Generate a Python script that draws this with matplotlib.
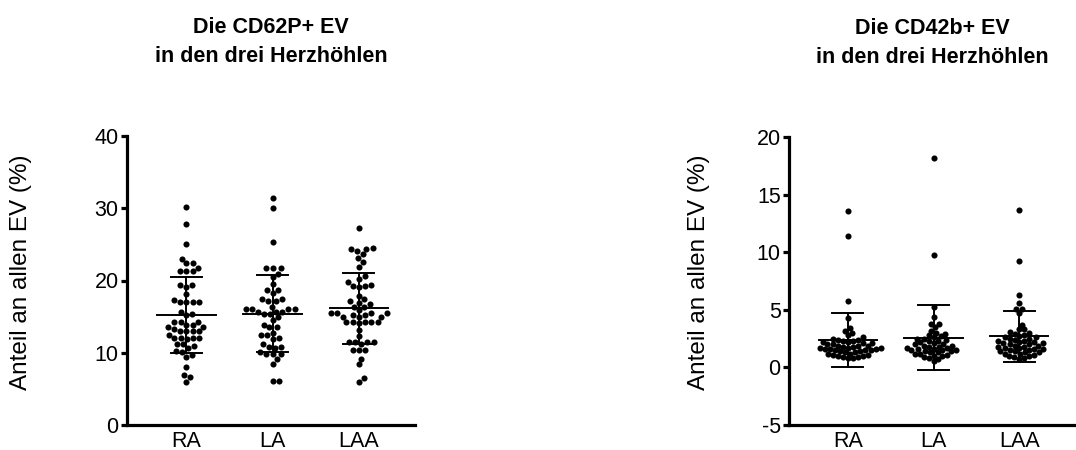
import numpy as np
import matplotlib
matplotlib.use("Agg")
import matplotlib.pyplot as plt

plt.rcParams['font.family'] = ['Liberation Sans', 'DejaVu Sans']
plt.rcParams['axes.unicode_minus'] = False

groups = ["RA", "LA", "LAA"]

# CD62P+ EV (% of all EV)
cd62_ra = [30.2, 27.8, 25.1, 23.0, 22.4, 22.4, 21.7, 21.3, 21.3, 21.3, 19.4, 19.4, 19.1,
           18.1, 17.3, 17.0, 17.0, 17.0, 17.0, 15.7, 15.4, 15.2, 14.3, 14.3, 14.3, 13.9,
           13.9, 13.6, 13.6, 13.3, 13.0, 13.0, 13.0, 13.0, 12.5, 12.0, 12.0, 12.0, 12.0,
           11.9, 11.2, 11.2, 10.9, 10.6, 10.2, 10.1, 9.7, 9.4, 8.0, 6.9, 6.7, 6.0]
cd62_la = [31.4, 30.0, 25.3, 21.7, 21.7, 21.7, 20.9, 20.5, 19.5, 18.7, 18.7, 18.3, 17.4,
           17.4, 17.1, 17.1, 16.4, 16.0, 16.0, 16.0, 16.0, 15.7, 15.7, 15.7, 15.4, 15.4,
           14.9, 14.6, 13.9, 13.5, 13.5, 12.8, 12.5, 12.4, 12.1, 11.9, 11.2, 10.8, 10.8,
           10.6, 10.1, 9.8, 9.8, 9.8, 9.1, 8.5, 6.1, 6.1]
cd62_laa = [27.2, 24.5, 24.4, 24.4, 24.1, 23.7, 23.1, 22.5, 21.8, 20.6, 20.2, 19.8, 19.4,
            19.2, 19.2, 19.1, 17.9, 17.4, 17.1, 16.9, 16.7, 16.4, 16.4, 15.9, 15.5, 15.5,
            15.5, 15.5, 15.2, 15.2, 15.0, 15.0, 15.0, 14.3, 14.3, 14.3, 14.3, 14.3, 14.1,
            13.2, 12.3, 11.5, 11.5, 11.5, 11.5, 11.2, 10.4, 10.4, 10.4, 9.2, 8.4, 6.5, 6.0]

# CD42b+ EV (% of all EV)
cd42_ra = [13.6, 11.4, 5.8, 4.3, 3.4, 3.2, 3.0, 2.8, 2.6, 2.5, 2.4, 2.4, 2.3, 2.3, 2.2, 2.2,
           2.1, 2.1, 2.0, 2.0, 1.9, 1.9, 1.9, 1.8, 1.8, 1.7, 1.7, 1.7, 1.6, 1.6, 1.6, 1.5,
           1.5, 1.5, 1.4, 1.4, 1.3, 1.3, 1.2, 1.2, 1.1, 1.1, 1.0, 1.0, 0.9, 0.9, 0.8, 0.8]
cd42_la = [18.2, 9.8, 5.2, 4.4, 3.8, 3.8, 3.5, 3.2, 3.0, 2.9, 2.8, 2.7, 2.6, 2.5, 2.5, 2.4,
           2.3, 2.3, 2.2, 2.1, 2.0, 2.0, 1.9, 1.9, 1.8, 1.8, 1.7, 1.7, 1.6, 1.6, 1.5, 1.5,
           1.5, 1.4, 1.4, 1.3, 1.3, 1.2, 1.2, 1.1, 1.0, 1.0, 0.9, 0.8, 0.7, 0.55]
cd42_laa = [13.7, 9.2, 6.3, 5.6, 5.1, 5.1, 4.7, 3.7, 3.3, 3.3, 3.1, 3.0, 2.9, 2.8, 2.7, 2.6,
            2.6, 2.5, 2.5, 2.4, 2.3, 2.3, 2.2, 2.2, 2.1, 2.1, 2.0, 2.0, 1.9, 1.9, 1.8, 1.8,
            1.7, 1.7, 1.6, 1.6, 1.5, 1.5, 1.4, 1.4, 1.3, 1.3, 1.2, 1.2, 1.1, 1.0, 1.0, 0.9,
            0.8, 0.75]


def swarm(vals, ppu_y, ppu_x, d):
    # simple beeswarm, works in pixels, returns x offsets in data units
    ys = np.asarray(vals) * ppu_y
    xs = np.zeros(len(ys))
    placed = []
    for i in np.argsort(ys):
        y = ys[i]
        cands = [0.0]
        for px, py in placed:
            dy = abs(py - y)
            if dy < d:
                dx = np.sqrt(d * d - dy * dy)
                cands += [px + dx, px - dx]
        cands.sort(key=lambda c: (round(abs(c), 6), -c))
        for c in cands:
            if all((c - px) ** 2 + (y - py) ** 2 >= d * d - 1e-6 for px, py in placed):
                xs[i] = c
                placed.append((c, y))
                break
    return xs / ppu_x


def panel(ax, data, ylim, yticks, ppu_y, d, title):
    for k, vals in enumerate(data):
        vals = np.array(vals)
        off = swarm(vals, ppu_y, 86.0, d)
        ax.plot(k + off, vals, 'o', color='black', markersize=4.4, mew=0, zorder=3)
        m = vals.mean()
        s = vals.std(ddof=1)
        ax.plot([k - 0.34, k + 0.34], [m, m], color='black', lw=1.4, zorder=4)
        ax.plot([k, k], [m - s, m + s], color='black', lw=1.4, zorder=4)
        ax.plot([k - 0.18, k + 0.18], [m + s, m + s], color='black', lw=1.4, zorder=4)
        ax.plot([k - 0.18, k + 0.18], [m - s, m - s], color='black', lw=1.4, zorder=4)
    ax.set_xlim(-0.686, 2.65)
    ax.set_ylim(*ylim)
    ax.set_yticks(yticks)
    ax.set_xticks(range(3))
    ax.set_xticklabels(groups)
    for sp in ['top', 'right']:
        ax.spines[sp].set_visible(False)
    for sp in ['left', 'bottom']:
        ax.spines[sp].set_linewidth(2.3)
    ax.tick_params(axis='y', length=4, width=2.3, labelsize=15.5, pad=2)
    ax.tick_params(axis='x', length=0, labelsize=15.5, pad=4)
    ax.set_ylabel("Anteil an allen EV (%)", fontsize=17.5)
    ax.set_title(title, fontsize=15.5, fontweight='bold', linespacing=1.5, pad=53)


fig = plt.figure(figsize=(10.76, 4.5), dpi=100)
ax1 = fig.add_axes([127 / 1076, 25 / 450, 288 / 1076, 289 / 450])
ax2 = fig.add_axes([789 / 1076, 25 / 450, 286 / 1076, 288 / 450])

panel(ax1, [cd62_ra, cd62_la, cd62_laa], (0, 40), [0, 10, 20, 30, 40], 7.225, 6.3,
      "Die CD62P+ EV\nin den drei Herzhöhlen")
panel(ax2, [cd42_ra, cd42_la, cd42_laa], (-5, 20), [-5, 0, 5, 10, 15, 20], 11.52, 5.2,
      "Die CD42b+ EV\nin den drei Herzhöhlen")
ax1.yaxis.set_label_coords(-0.33, 0.53)
ax2.yaxis.set_label_coords(-0.275, 0.53)

fig.savefig("out.png", dpi=100)
